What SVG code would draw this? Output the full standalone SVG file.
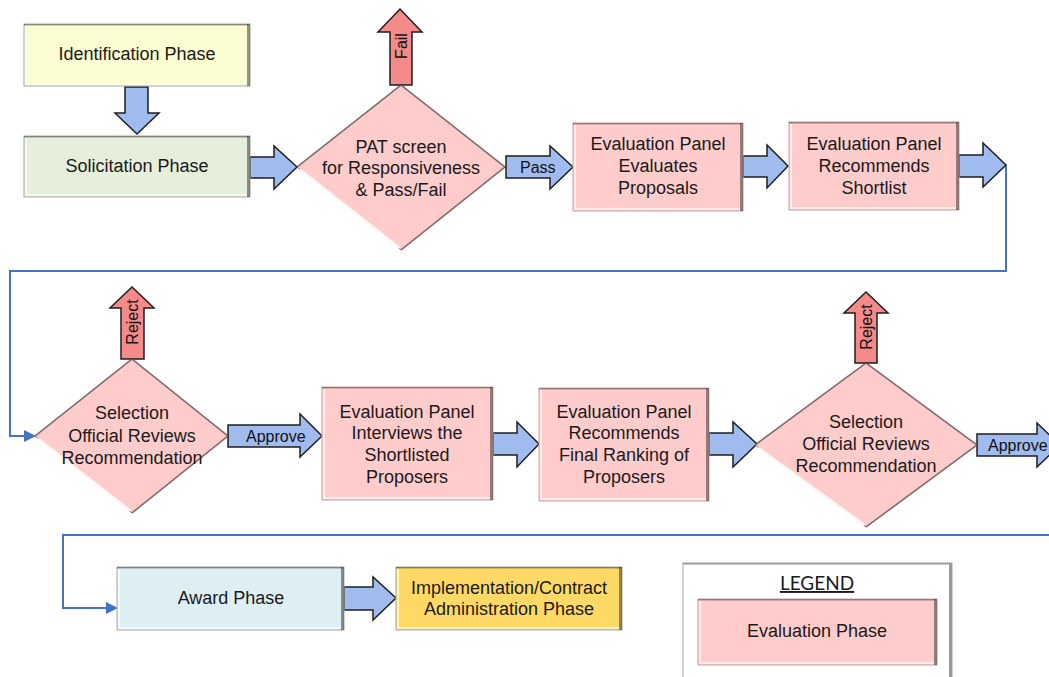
<svg xmlns="http://www.w3.org/2000/svg" width="1049" height="677" viewBox="0 0 1049 677">
  <style>
    .t { font-family: "Liberation Sans", Arial, sans-serif; font-size: 18px; fill: #1a1a1a; text-anchor: middle; }
    .lbl { font-family: "Liberation Sans", Arial, sans-serif; font-size: 16px; fill: #111; }
    .legend { font-family: Lato, "Liberation Sans", sans-serif; font-size: 19px; fill: #1a1a1a; text-anchor: middle; text-decoration: underline; }
    .box { stroke: #a8a8a8; stroke-width: 1; }
    .pink { fill: #ffcccc; stroke: #c9a3a3; }
    .top { fill: none; stroke: #000; stroke-opacity: 0.35; stroke-width: 1.5; }
    .rgt { fill: none; stroke: #000; stroke-opacity: 0.4; stroke-width: 3; }
    .hl { fill: none; stroke: #fff; stroke-opacity: 0.65; stroke-width: 2; }
    .dia { fill: #ffcccc; stroke: #a07c7c; stroke-width: 1; }
    .dsh { fill: none; stroke: #000; stroke-opacity: 0.3; stroke-width: 2; }
    .dhl { fill: none; stroke: #fff; stroke-width: 3; stroke-opacity: 0.9; }
    .blue { fill: #a0bcef; stroke: #1e1e1e; stroke-width: 1.5; stroke-linejoin: miter; }
    .red { fill: #f48a8a; stroke: #1e1e1e; stroke-width: 1.5; }
    .conn { fill: none; stroke: #4472c4; stroke-width: 2; }
  </style>

  <!-- connectors between rows -->
  <g id="connectors">
    <path class="conn" d="M1006 165 V271 H10 V436 H28"/>
    <polygon points="24,430 36,436 24,442" fill="#4472c4"/>
    <path class="conn" d="M1049 535 H63 V608 H110"/>
    <polygon points="106,602 118,608 106,614" fill="#4472c4"/>

    <!-- block arrows -->
    <polygon class="blue" points="125,87 148,87 148,113 159,113 137,134 115,113 125,113"/>
    <polygon class="blue" points="250,157 274,157 274,146 297,167 274,189 274,178 250,178"/>
    <g id="arrow-pass">
      <polygon class="blue" points="506,156 550,156 550,146 573,167 550,189 550,178 506,178"/>
      <text class="lbl" x="520" y="173">Pass</text>
    </g>
    <polygon class="blue" points="743,156 767,156 767,145 788,166 767,188 767,177 743,177"/>
    <polygon class="blue" points="959,155 983,155 983,143 1006,165 983,187 983,177 959,177"/>
    <g id="arrow-approve-1">
      <polygon class="blue" points="228,425 300,425 300,414 322,436 300,457 300,447 228,447"/>
      <text class="lbl" x="246" y="442">Approve</text>
    </g>
    <polygon class="blue" points="493,433 517,433 517,422 539,444 517,467 517,455 493,455"/>
    <polygon class="blue" points="709,433 733,433 733,422 757,444 733,467 733,455 709,455"/>
    <g id="arrow-approve-2">
      <polygon class="blue" points="977,434 1037,434 1037,423 1060,445 1037,467 1037,456 977,456"/>
      <text class="lbl" x="988" y="451">Approve</text>
    </g>
    <polygon class="blue" points="344,587 373,587 373,577 396,598 373,620 373,610 344,610"/>

    <g id="arrow-fail">
      <polygon class="red" points="390,85 390,32 378,32 400,9 422,32 412,32 412,85"/>
      <text class="lbl" text-anchor="middle" transform="translate(407,46) rotate(-90)">Fail</text>
    </g>
    <g id="arrow-reject-1">
      <polygon class="red" points="121,359 121,308 110,308 132,287 154,308 144,308 144,359"/>
      <text class="lbl" text-anchor="middle" transform="translate(138,322) rotate(-90)">Reject</text>
    </g>
    <g id="arrow-reject-2">
      <polygon class="red" points="855,363 855,313 844,313 866,292 888,313 877,313 877,363"/>
      <text class="lbl" text-anchor="middle" transform="translate(872,327) rotate(-90)">Reject</text>
    </g>
  </g>

  <!-- Identification Phase -->
  <g id="identification">
    <rect class="box" x="24" y="24" width="226" height="62" fill="#fdfdd2" stroke="#c8c8a0"/>
    <path class="hl" d="M26 26 V84 H247"/>
    <path class="top" d="M24 24.75 H248.5"/>
    <path class="rgt" d="M248.5 24 V86"/>
    <text class="t" x="137" y="60">Identification Phase</text>
  </g>

  <!-- Solicitation Phase -->
  <g id="solicitation">
    <rect class="box" x="24" y="136" width="226" height="61" fill="#e5efdb" stroke="#bcc8b0"/>
    <path class="hl" d="M26 138 V195 H247"/>
    <path class="top" d="M24 136.75 H248.5"/>
    <path class="rgt" d="M248.5 136 V197"/>
    <text class="t" x="137" y="172">Solicitation Phase</text>
  </g>

  <!-- PAT screen decision -->
  <g id="pat-screen">
    <polygon class="dia" points="401,85 505,167 401,250 297,167"/>
    <path class="dsh" d="M297 167 L401 85 L505 167 L401 250"/>
    <path class="dhl" d="M300 170 L399 248"/>
    <text class="t" x="401" y="153">PAT screen</text>
    <text class="t" x="401" y="174">for Responsiveness</text>
    <text class="t" x="401" y="196">&amp; Pass/Fail</text>
  </g>

  <!-- Evaluation Panel Evaluates Proposals -->
  <g id="evaluates-proposals">
    <rect class="box pink" x="573" y="123" width="170" height="88"/>
    <path class="hl" d="M575 125 V209 H740"/>
    <path class="top" d="M573 123.75 H741.5"/>
    <path class="rgt" d="M741.5 123 V211"/>
    <text class="t" x="658" y="150">Evaluation Panel</text>
    <text class="t" x="658" y="172">Evaluates</text>
    <text class="t" x="658" y="194">Proposals</text>
  </g>

  <!-- Evaluation Panel Recommends Shortlist -->
  <g id="recommends-shortlist">
    <rect class="box pink" x="789" y="122" width="170" height="88"/>
    <path class="hl" d="M791 124 V208 H956"/>
    <path class="top" d="M789 122.75 H957.5"/>
    <path class="rgt" d="M957.5 122 V210"/>
    <text class="t" x="874" y="150">Evaluation Panel</text>
    <text class="t" x="874" y="172">Recommends</text>
    <text class="t" x="874" y="194">Shortlist</text>
  </g>

  <!-- Selection Official review of the shortlist -->
  <g id="selection-review-1">
    <polygon class="dia" points="132,359 228,436 132,513 35,436"/>
    <path class="dsh" d="M35 436 L132 359 L228 436 L132 513"/>
    <path class="dhl" d="M38 439 L130 511"/>
    <text class="t" x="132" y="419">Selection</text>
    <text class="t" x="132" y="442">Official Reviews</text>
    <text class="t" x="132" y="464">Recommendation</text>
  </g>

  <!-- Evaluation Panel Interviews -->
  <g id="interviews">
    <rect class="box pink" x="322" y="387" width="171" height="113"/>
    <path class="hl" d="M324 389 V498 H490"/>
    <path class="top" d="M322 387.75 H491.5"/>
    <path class="rgt" d="M491.5 387 V500"/>
    <text class="t" x="407" y="418">Evaluation Panel</text>
    <text class="t" x="407" y="439">Interviews the</text>
    <text class="t" x="407" y="461">Shortlisted</text>
    <text class="t" x="407" y="483">Proposers</text>
  </g>

  <!-- Evaluation Panel Final Ranking -->
  <g id="final-ranking">
    <rect class="box pink" x="539" y="388" width="170" height="113"/>
    <path class="hl" d="M541 390 V499 H706"/>
    <path class="top" d="M539 388.75 H707.5"/>
    <path class="rgt" d="M707.5 388 V501"/>
    <text class="t" x="624" y="418">Evaluation Panel</text>
    <text class="t" x="624" y="439">Recommends</text>
    <text class="t" x="624" y="461">Final Ranking of</text>
    <text class="t" x="624" y="483">Proposers</text>
  </g>

  <!-- Selection Official review of the final ranking -->
  <g id="selection-review-2">
    <polygon class="dia" points="866,363 977,445 866,527 755,445"/>
    <path class="dsh" d="M755 445 L866 363 L977 445 L866 527"/>
    <path class="dhl" d="M758 448 L864 525"/>
    <text class="t" x="866" y="428">Selection</text>
    <text class="t" x="866" y="450">Official Reviews</text>
    <text class="t" x="866" y="472">Recommendation</text>
  </g>

  <!-- Award Phase -->
  <g id="award">
    <rect class="box" x="117" y="567" width="227" height="63" fill="#ddeff3" stroke="#b0c0c4"/>
    <path class="hl" d="M119 569 V628 H341"/>
    <path class="top" d="M117 567.75 H342.5"/>
    <path class="rgt" d="M342.5 567 V630"/>
    <text class="t" x="231" y="604">Award Phase</text>
  </g>

  <!-- Implementation / Contract Administration -->
  <g id="implementation">
    <rect class="box" x="396" y="567" width="226" height="63" fill="#ffd966" stroke="#c8aa50"/>
    <path class="hl" d="M398 569 V628 H619"/>
    <path class="top" d="M396 567.75 H620.5"/>
    <path class="rgt" d="M620.5 567 V630"/>
    <text class="t" x="509" y="594">Implementation/Contract</text>
    <text class="t" x="509" y="615">Administration Phase</text>
  </g>

  <!-- Legend -->
  <g id="legend">
    <rect x="683" y="563" width="269" height="130" fill="#fff" stroke="#c4c4c4" stroke-width="1.5"/>
    <path d="M950.5 563 V677" stroke="#999" stroke-width="3" fill="none"/>
    <path d="M683 563.75 H951" stroke="#999" stroke-width="1.5" fill="none"/>
    <text class="legend" x="817" y="590">LEGEND</text>
    <rect class="box pink" x="698" y="599" width="239" height="66"/>
    <path class="hl" d="M700 601 V663 H934"/>
    <path class="top" d="M698 599.75 H935.5"/>
    <path class="rgt" d="M935.5 599 V665"/>
    <text class="t" x="817" y="637">Evaluation Phase</text>
  </g>
</svg>
